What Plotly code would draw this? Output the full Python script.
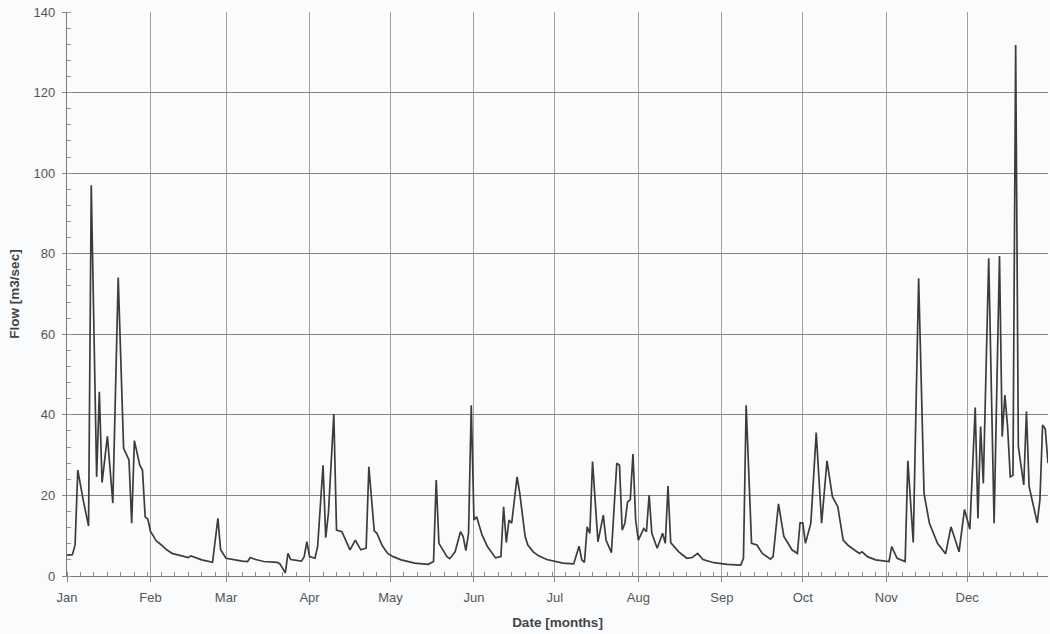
import pandas as pd
import plotly.graph_objects as go

# Daily river flow over one year: day offset from 1 January and flow in m3/sec
day_offset = [
    0, 2, 3, 4, 6, 8, 9, 11, 12, 13, 15, 16, 17, 19, 21, 23, 24, 25, 27, 28,
    29, 30, 31, 32, 33, 35, 37, 39, 45, 46, 50, 54, 56, 57, 59, 65, 67, 68, 70, 73,
    78, 79, 81, 82, 83, 87, 88, 89, 90, 92, 93, 95, 96, 97, 99, 100, 102, 105, 107, 109,
    111, 112, 114, 115, 117, 119, 121, 124, 129, 134, 136, 137, 138, 141, 142, 144, 146, 147, 148, 149,
    150, 151, 152, 154, 156, 159, 161, 162, 163, 164, 165, 167, 168, 170, 171, 173, 175, 178, 184, 188,
    190, 191, 192, 193, 194, 195, 197, 199, 200, 202, 204, 205, 206, 207, 208, 209, 210, 211, 212, 214,
    215, 216, 217, 219, 221, 222, 223, 224, 227, 230, 232, 234, 236, 240, 245, 250, 251, 252, 254, 256,
    258, 261, 262, 264, 266, 269, 271, 272, 273, 274, 276, 278, 280, 282, 284, 286, 288, 290, 292, 294,
    295, 297, 300, 305, 306, 308, 311, 312, 314, 316, 318, 320, 323, 326, 328, 331, 333, 335, 337, 338,
    339, 340, 342, 344, 346, 347, 348, 349, 350, 351, 352, 353, 355, 356, 357, 358, 360, 361, 362, 363,
    364,
]
flow = [
    5.2, 5.3, 7.7, 26.3, 18.9, 12.4, 97.0, 24.6, 45.7, 23.2, 34.7, 25.5, 18.1, 74.1, 31.7, 28.8, 13.1, 33.6, 27.5, 26.3,
    14.7, 14.1, 11.0, 10.0, 8.8, 7.7, 6.5, 5.6, 4.6, 5.0, 4.0, 3.4, 14.3, 6.5, 4.4, 3.7, 3.6, 4.6, 4.1, 3.6,
    3.4, 3.0, 0.8, 5.6, 4.1, 3.7, 4.8, 8.5, 4.8, 4.4, 7.3, 27.5, 9.5, 15.6, 40.2, 11.4, 11.0, 6.5, 8.9, 6.5,
    6.9, 27.1, 11.2, 10.6, 7.5, 5.6, 4.8, 4.0, 3.2, 2.9, 3.6, 23.8, 8.1, 4.8, 4.3, 6.0, 11.0, 9.8, 6.3, 10.6,
    42.4, 13.9, 14.7, 10.2, 7.3, 4.5, 4.8, 17.2, 8.3, 13.9, 13.1, 24.6, 20.5, 9.8, 7.7, 6.0, 5.0, 4.1, 3.2, 3.0,
    7.4, 4.0, 3.4, 12.2, 10.6, 28.4, 8.5, 15.1, 8.9, 5.8, 28.0, 27.5, 11.4, 13.1, 18.4, 18.9, 30.3, 13.9, 8.9, 11.8,
    11.0, 20.1, 10.6, 6.9, 10.6, 8.1, 22.3, 8.3, 6.0, 4.4, 4.6, 5.6, 4.1, 3.3, 2.9, 2.7, 4.4, 42.4, 8.1, 7.7,
    5.6, 4.2, 4.8, 17.9, 9.8, 6.5, 5.6, 13.2, 13.2, 8.1, 13.1, 35.6, 13.1, 28.6, 19.7, 17.2, 8.9, 7.5, 6.5, 5.6,
    6.0, 4.8, 4.0, 3.6, 7.3, 4.4, 3.6, 28.6, 8.3, 73.9, 20.5, 13.1, 8.1, 5.5, 12.2, 6.0, 16.5, 11.6, 41.8, 14.3,
    37.1, 23.0, 78.9, 13.1, 79.4, 34.6, 44.9, 37.1, 24.6, 25.0, 131.8, 32.1, 22.6, 40.8, 22.2, 18.9, 13.2, 18.9, 37.5, 36.5,
    28.0,
]

year_start = pd.Timestamp("2001-01-01")
dates = [year_start + pd.Timedelta(days=d) for d in day_offset]

y_ticks = [0, 20, 40, 60, 80, 100, 120, 140]

FONT = "Liberation Sans, Arial, sans-serif"
LABEL_GREY = "#555555"

fig = go.Figure(
    go.Scatter(
        x=dates,
        y=flow,
        mode="lines",
        line=dict(color="#3c3c3c", width=1.7),
        hoverinfo="x+y",
    )
)

fig.update_layout(
    width=1050,
    height=634,
    margin=dict(l=67, r=2, t=12, b=58),
    paper_bgcolor="#fafbfc",
    plot_bgcolor="#fafbfc",
    showlegend=False,
    font=dict(family=FONT, size=13, color=LABEL_GREY),
)

fig.update_xaxes(
    type="date",
    range=["2001-01-01", "2001-12-31"],
    dtick="M1",
    tick0="2001-01-01",
    tickformat="%b",
    ticks="outside",
    ticklen=5,
    tickcolor="#888888",
    ticklabelstandoff=4,
    showgrid=True,
    gridcolor="#a2a2a2",
    gridwidth=1,
    showline=True,
    linecolor="#7a7a7a",
    linewidth=1.2,
    minor=dict(
        dtick=5 * 86400000,
        tick0="2001-01-01",
        ticks="inside",
        ticklen=4,
        tickcolor="#888888",
        showgrid=False,
    ),
    title=dict(
        text="<b>Date [months]</b>",
        font=dict(family=FONT, size=13.5, color="#444444"),
        standoff=13,
    ),
)

fig.update_yaxes(
    range=[0, 140],
    tickvals=y_ticks,
    ticks="outside",
    ticklen=4,
    tickcolor="#888888",
    ticklabelstandoff=4,
    showgrid=True,
    gridcolor="#858585",
    gridwidth=1.2,
    zeroline=False,
    showline=True,
    linecolor="#7a7a7a",
    linewidth=1.2,
    minor=dict(
        dtick=4,
        ticks="inside",
        ticklen=4,
        tickcolor="#999999",
        showgrid=False,
    ),
    title=dict(
        text="<b>Flow [m3/sec]</b>",
        font=dict(family=FONT, size=13.5, color="#444444"),
        standoff=10,
    ),
)

fig.write_html("out.html")
